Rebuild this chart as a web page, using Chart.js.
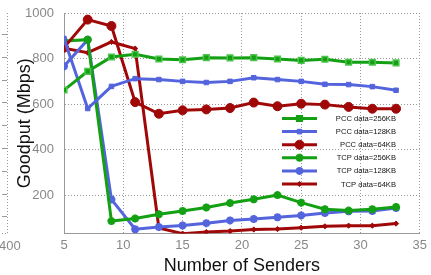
<!DOCTYPE html>
<html>
<head>
<meta charset="utf-8">
<script src="https://cdn.jsdelivr.net/npm/chart.js@4"></script>
<style>
  body { margin: 0; background: #fff; }
  #wrap { width: 431px; height: 275px; }
</style>
</head>
<body>
<div id="wrap"><canvas id="goodputChart" width="431" height="275"></canvas></div>
<script>
const senders = [5, 7, 9, 11, 13, 15, 17, 19, 21, 23, 25, 27, 29, 31, 33];

const pcc256 = [662, 744, 807, 819, 798, 795, 804, 803, 804, 798, 792, 797, 784, 784, 781];
const pcc128 = [888, 581, 678, 712, 708, 700, 695, 700, 716, 708, 700, 687, 686, 677, 661];
const pcc64  = [848, 971, 943, 609, 558, 573, 577, 583, 607, 591, 602, 598, 588, 580, 580];
const tcp256 = [877, 883, 87, 98, 117, 131, 147, 166, 183, 201, 168, 139, 133, 139, 149];
const tcp128 = [766, 883, 182, 51, 61, 68, 78, 90, 96, 104, 112, 122, 130, 131, 144];
const tcp64  = [845, 826, 873, 844, 57, 32, 39, 43, 50, 52, 58, 64, 67, 67, 76];

const xTicks = [5, 10, 15, 20, 25, 30, 35];
const yTicks = [200, 400, 600, 800, 1000];

const green = '#13a013';
const blue = '#5464dc';
const red = '#a00808';
const fontFam = '"Liberation Sans", Arial, sans-serif';

function pts(vals) {
  return senders.map((s, i) => ({ x: s, y: vals[i] }));
}

// legend drawn like the gnuplot key: sample on the left, text right aligned
const keyPlugin = {
  id: 'key',
  afterDatasetsDraw(chart) {
    const c = chart.ctx;
    const x0 = 282, x1 = 317, textRight = 396;
    c.save();
    chart.data.datasets.forEach((ds, i) => {
      const y = 118.5 + i * 13.1;
      c.strokeStyle = ds.borderColor;
      c.fillStyle = ds.backgroundColor;
      c.lineWidth = 3;
      c.beginPath();
      c.moveTo(x0, y);
      c.lineTo(x1, y);
      c.stroke();
      c.lineWidth = ds.pointBorderWidth;
      Chart.helpers.drawPoint(c, {
        pointStyle: ds.pointStyle,
        radius: ds.pointRadius,
        borderWidth: ds.pointBorderWidth
      }, (x0 + x1) / 2, y);
      c.fillStyle = '#111';
      c.font = '7.6px ' + fontFam;
      c.textAlign = 'right';
      c.textBaseline = 'middle';
      c.fillText(ds.label, textRight, y + 0.5);
    });
    c.restore();
  },
  beforeDatasetsDraw(chart) {
    // edge of the neighbouring figure at the far left
    const c = chart.ctx;
    c.save();
    c.strokeStyle = '#999';
    c.lineWidth = 1;
    c.setLineDash([1, 2]);
    c.beginPath();
    c.moveTo(7.5, 13);
    c.lineTo(7.5, 233.5);
    c.lineTo(0, 233.5);
    c.stroke();
    c.setLineDash([]);
    for (let y = 34; y < 233; y += 22.8) {
      c.beginPath();
      c.moveTo(2, Math.round(y) + 0.5);
      c.lineTo(7, Math.round(y) + 0.5);
      c.stroke();
    }
    c.fillStyle = '#888';
    c.font = '13px ' + fontFam;
    c.textAlign = 'left';
    c.textBaseline = 'middle';
    c.fillText('400', -1, 246);
    c.restore();
  }
};

const ctx = document.getElementById('goodputChart');

const goodputChart = new Chart(ctx, {
  type: 'line',
  data: {
    datasets: [
      { label: 'PCC data=256KB', data: pts(pcc256), borderColor: green, backgroundColor: green,
        pointStyle: 'rect', pointRadius: 4, pointBorderWidth: 1.5, pointBorderColor: '#4cc44c' },
      { label: 'PCC data=128KB', data: pts(pcc128), borderColor: blue, backgroundColor: blue,
        pointStyle: 'rect', pointRadius: 3.2, pointBorderWidth: 1 },
      { label: 'PCC data=64KB', data: pts(pcc64), borderColor: red, backgroundColor: red,
        pointStyle: 'circle', pointRadius: 4.5, pointBorderWidth: 1 },
      { label: 'TCP data=256KB', data: pts(tcp256), borderColor: green, backgroundColor: green,
        pointStyle: 'star', pointRadius: 4, pointBorderWidth: 2.5 },
      { label: 'TCP data=128KB', data: pts(tcp128), borderColor: blue, backgroundColor: blue,
        pointStyle: 'star', pointRadius: 4, pointBorderWidth: 2.5 },
      { label: 'TCP data=64KB', data: pts(tcp64), borderColor: red, backgroundColor: red,
        pointStyle: 'rectRot', pointRadius: 2.6, pointBorderWidth: 1 }
    ]
  },
  options: {
    responsive: false,
    animation: false,
    layout: { padding: { top: 13, right: 11, left: 0, bottom: 0 } },
    elements: {
      line: { borderWidth: 3, tension: 0 },
      point: { hoverRadius: 4 }
    },
    plugins: {
      legend: { display: false },
      tooltip: { enabled: false }
    },
    scales: {
      x: {
        type: 'linear',
        min: 5,
        max: 35,
        afterBuildTicks: (axis) => { axis.ticks = xTicks.map(v => ({ value: v })); },
        grid: { color: '#999', drawTicks: false },
        border: { color: '#999', dash: [1, 2] },
        ticks: { color: '#888', font: { size: 13, family: fontFam }, padding: 4, callback: v => v },
        title: { display: true, text: 'Number of Senders', color: '#111',
          font: { size: 18, family: fontFam, lineHeight: 1 }, padding: { top: 0, bottom: 0 } }
      },
      y: {
        min: 33,
        max: 1000,
        afterBuildTicks: (axis) => { axis.ticks = yTicks.map(v => ({ value: v })); },
        afterFit: (axis) => { axis.width = 64; axis.paddingTop = 0; },
        grid: { color: '#999', drawTicks: false },
        border: { color: '#999', dash: [1, 2] },
        ticks: { color: '#888', font: { size: 13, family: fontFam }, padding: 10, callback: v => v },
        title: { display: true, text: 'Goodput (Mbps)', color: '#111',
          font: { size: 18, family: fontFam }, padding: { top: 14, bottom: 0 } }
      }
    }
  },
  plugins: [keyPlugin]
});
</script>
</body>
</html>
